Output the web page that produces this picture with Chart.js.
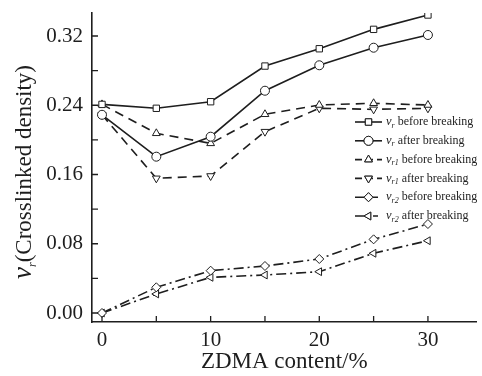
<!DOCTYPE html>
<html>
<head>
<meta charset="utf-8">
<script src="https://cdn.jsdelivr.net/npm/chart.js@4.4.1/dist/chart.umd.min.js"></script>
<style>
body { margin:0; background:#fff; }
#wrap { width:482px; height:376px; position:relative; }
</style>
</head>
<body>
<div id="wrap"><canvas id="myChart"></canvas></div>
<script>
// ZDMA content (%)
var zdma = [0, 5, 10, 15, 20, 25, 30];

// crosslinked density
var vrBefore  = [0.241, 0.2365, 0.2441, 0.2853, 0.3053, 0.3277, 0.3443];
var vrAfter   = [0.229, 0.1806, 0.2037, 0.2568, 0.2862, 0.3065, 0.3212];
var vr1Before = [0.241, 0.2076, 0.1960, 0.2296, 0.2403, 0.2423, 0.2403];
var vr1After  = [0.229, 0.1556, 0.1583, 0.2095, 0.2365, 0.2353, 0.2365];
var vr2Before = [0.000, 0.0297, 0.0489, 0.0543, 0.0624, 0.0851, 0.1028];
var vr2After  = [0.000, 0.0220, 0.0412, 0.0439, 0.0477, 0.0690, 0.0835];

var xTicks = [0, 5, 10, 15, 20, 25, 30];
var xTickLabels = ["0", "", "10", "", "20", "", "30"];
var yTicks = [0, 0.04, 0.08, 0.12, 0.16, 0.20, 0.24, 0.28, 0.32];
var yTickLabels = ["0.00", "", "0.08", "", "0.16", "", "0.24", "", "0.32"];

var ink = "#1e1e1e";
var serif = "'Liberation Serif', 'DejaVu Serif', serif";

function pts(ys){
	var out = [];
	for(var i = 0; i < zdma.length; i++)
		out.push({x: zdma[i], y: ys[i]});
	return out;
}

function series(sub, when, ys, style, rot, dash, legendDash){
	return {
		label: "v" + sub + " " + when,
		sub: sub,
		when: when,
		legendDash: legendDash,
		data: pts(ys),
		borderColor: ink,
		borderWidth: 1.6,
		borderDash: dash,
		pointStyle: style,
		pointRotation: rot,
		pointRadius: 4.5,
		pointBorderWidth: 1,
		pointBorderColor: ink,
		pointBackgroundColor: "#fff",
		tension: 0
	};
}

var dashed = [9, 6];
var dashDot = [10, 4, 2, 4];

var datasets = [
	series("r", "before breaking", vrBefore, "rect", 0, [], []),
	series("r", "after breaking", vrAfter, "circle", 0, [], []),
	series("r1", "before breaking", vr1Before, "triangle", 0, dashed, [7, 4]),
	series("r1", "after breaking", vr1After, "triangle", 180, dashed, [7, 4]),
	series("r2", "before breaking", vr2Before, "rectRot", 0, dashDot, [9, 9, 5, 4]),
	series("r2", "after breaking", vr2After, "triangle", 270, dashDot, [9, 9, 5, 4])
];

// inward tick marks, legend and the y title with italic/subscript parts
var extras = {
	id: "extras",
	afterDraw: function(chart){
		var ctx = chart.ctx;
		var xs = chart.scales.x, ys = chart.scales.y;
		var area = chart.chartArea;
		ctx.save();
		ctx.strokeStyle = ink;
		ctx.lineWidth = 1.3;
		ctx.beginPath();
		for(var i = 0; i < xTicks.length; i++){
			var px = xs.getPixelForValue(xTicks[i]);
			ctx.moveTo(px, area.bottom);
			ctx.lineTo(px, area.bottom - 6);
		}
		for(var j = 0; j < yTicks.length; j++){
			var py = ys.getPixelForValue(yTicks[j]);
			ctx.moveTo(area.left, py);
			ctx.lineTo(area.left + 6, py);
		}
		ctx.stroke();

		// legend
		var lx = 355, ly = 122, step = 18.8;
		for(var k = 0; k < datasets.length; k++){
			var d = datasets[k];
			var y = ly + k * step;
			ctx.strokeStyle = ink;
			ctx.lineWidth = 1.6;
			ctx.setLineDash(d.legendDash);
			ctx.beginPath();
			ctx.moveTo(lx, y);
			ctx.lineTo(lx + 27, y);
			ctx.stroke();
			ctx.setLineDash([]);
			ctx.fillStyle = "#fff";
			ctx.lineWidth = 1;
			Chart.helpers.drawPoint(ctx, {pointStyle: d.pointStyle, rotation: d.pointRotation, radius: 4.5, borderWidth: 1}, lx + 13.5, y);
			ctx.fill();
			ctx.stroke();
			ctx.fillStyle = ink;
			ctx.textBaseline = "middle";
			ctx.textAlign = "left";
			var tx = lx + 31;
			ctx.font = "italic 12.5px " + serif;
			ctx.fillText("v", tx, y);
			tx += ctx.measureText("v").width;
			ctx.font = "italic 8px " + serif;
			ctx.fillText(d.sub, tx, y + 3.5);
			tx += ctx.measureText(d.sub).width;
			ctx.font = "12px " + serif;
			ctx.fillText(" " + d.when, tx, y);
		}

		// y axis title
		ctx.translate(31, 172);
		ctx.rotate(-Math.PI / 2);
		ctx.textBaseline = "alphabetic";
		ctx.fillStyle = ink;
		var big = "italic 27px " + serif, small = "italic 12px " + serif, body = "23px " + serif;
		var rest = "(Crosslinked density)";
		ctx.font = big; var w1 = ctx.measureText("\u03bd").width;
		ctx.font = small; var w2 = ctx.measureText("r").width;
		ctx.font = body; var w3 = ctx.measureText(rest).width;
		var sx = -(w1 + w2 + w3) / 2;
		ctx.font = big; ctx.fillText("\u03bd", sx, 0);
		ctx.font = small; ctx.fillText("r", sx + w1, 5);
		ctx.font = body; ctx.fillText(rest, sx + w1 + w2, 0);
		ctx.restore();
	}
};

var ctx = document.getElementById("myChart");
var chart = new Chart(ctx, {
	type: "line",
	data: { datasets: datasets },
	plugins: [extras],
	options: {
		responsive: true,
		maintainAspectRatio: false,
		animation: false,
		layout: { padding: { top: 13, right: 2, left: 0, bottom: 0 } },
		plugins: { legend: { display: false }, tooltip: { enabled: false } },
		scales: {
			x: {
				type: "linear",
				min: -0.92,
				max: 34.47,
				grid: { display: false, drawTicks: false },
				border: { display: true, color: ink, width: 1.6 },
				afterBuildTicks: function(s){ s.ticks = xTicks.map(function(v){ return {value: v}; }); },
				afterFit: function(s){ s.height = 54; s.paddingLeft = 0; s.paddingRight = 0; },
				ticks: {
					autoSkip: false,
					maxRotation: 0,
					padding: 6,
					color: ink,
					font: { family: serif, size: 21 },
					callback: function(v, i){ return xTickLabels[i]; }
				},
				title: {
					display: true,
					text: "ZDMA content/%",
					color: ink,
					font: { family: serif, size: 23 },
					padding: { top: 0, bottom: 0 }
				}
			},
			y: {
				min: -0.0104,
				max: 0.3466,
				grid: { display: false, drawTicks: false },
				border: { display: true, color: ink, width: 1.6 },
				afterBuildTicks: function(s){ s.ticks = yTicks.map(function(v){ return {value: v}; }); },
				afterFit: function(s){ s.width = 92; s.paddingTop = 0; s.paddingBottom = 0; },
				ticks: {
					autoSkip: false,
					padding: 9,
					color: ink,
					font: { family: serif, size: 21 },
					callback: function(v, i){ return yTickLabels[i]; }
				}
			}
		}
	}
});
</script>
</body>
</html>
